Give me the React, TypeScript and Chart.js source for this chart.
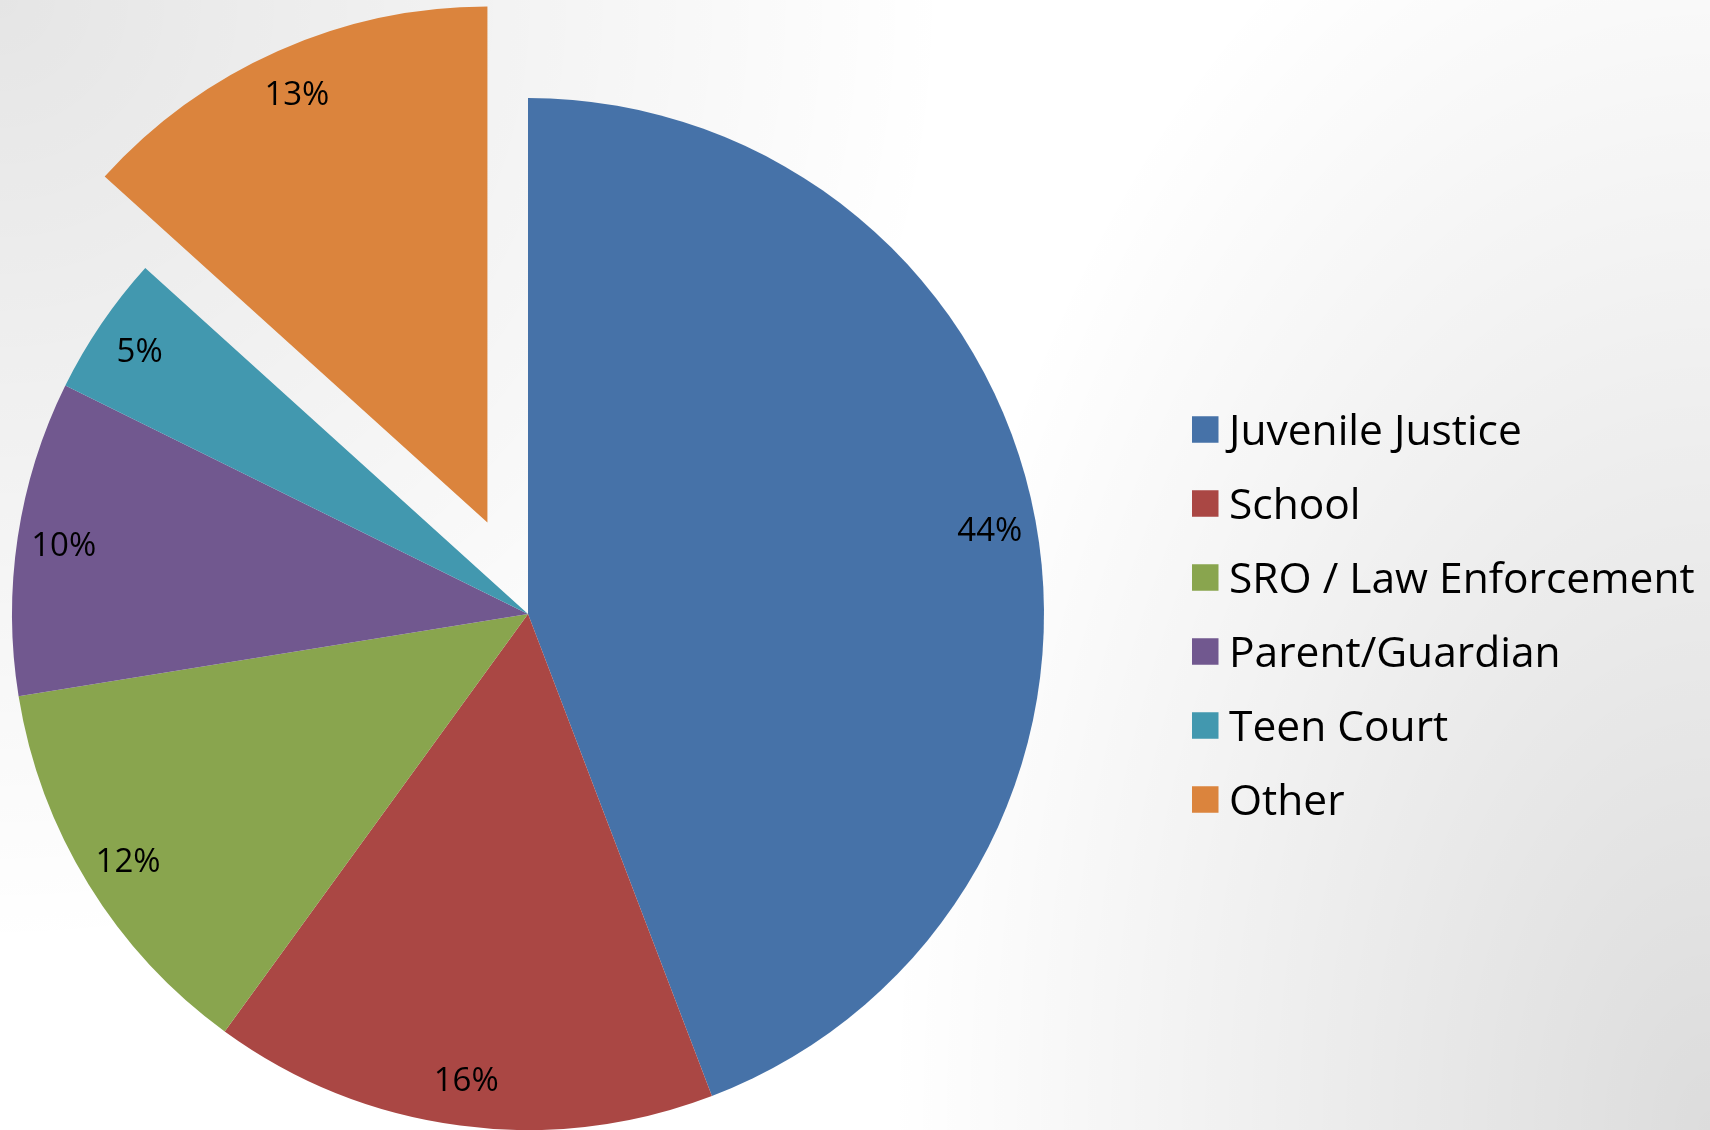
import React, { useEffect, useRef } from "react";
import { Chart, registerables } from "chart.js";

Chart.register(...registerables);

// ---- data ----
const categories: string[] = [
  "Juvenile Justice",
  "School",
  "SRO / Law Enforcement",
  "Parent/Guardian",
  "Teen Court",
  "Other",
];
// slice sizes (share of total, %)
const shares: number[] = [44.2, 15.8, 12.45, 9.85, 4.4, 13.3];
// data labels as printed on the slices
const percentLabels: string[] = ["44%", "16%", "12%", "10%", "5%", "13%"];
const sliceColors: string[] = ["#4672A8", "#AA4744", "#89A54E", "#71588F", "#4298AF", "#DB843D"];

// ---- style constants ----
const W = 1710;
const H = 1130;
const FONT = "'Open Sans', 'Liberation Sans', sans-serif";
const EXPLODE_INDEX = 5;
const EXPLODE_DISTANCE = 100;
const PIE_RADIUS = 516;
const LABEL_RADIUS_FRACTION = 0.91;
const LABEL_FONT_SIZE = 33;
const LEGEND_FONT_SIZE = 42.5;

const backgroundPlugin = {
  id: "bgGradient",
  beforeDraw(chart: any) {
    const ctx = chart.ctx as CanvasRenderingContext2D;
    const w = chart.width;
    const h = chart.height;
    ctx.save();
    ctx.fillStyle = "#ffffff";
    ctx.fillRect(0, 0, w, h);
    // top-left shade
    const g1 = ctx.createRadialGradient(0, 0, 0, 0, 0, 950);
    g1.addColorStop(0, "rgba(0,0,0,0.10)");
    g1.addColorStop(1, "rgba(0,0,0,0)");
    ctx.fillStyle = g1;
    ctx.fillRect(0, 0, w, h);
    // bottom-right shade (elliptical)
    ctx.translate(w, h);
    ctx.scale(0.6, 1);
    const g2 = ctx.createRadialGradient(0, 0, 0, 0, 0, 1370);
    g2.addColorStop(0, "rgba(0,0,0,0.137)");
    g2.addColorStop(1, "rgba(0,0,0,0)");
    ctx.fillStyle = g2;
    ctx.fillRect(-w / 0.6, -h, w / 0.6, h);
    ctx.restore();
  },
};

const explodePlugin = {
  id: "explodeSlice",
  afterDatasetsUpdate(chart: any) {
    const meta = chart.getDatasetMeta(0);
    const arc = meta.data[EXPLODE_INDEX];
    if (!arc) return;
    const mid = (arc.startAngle + arc.endAngle) / 2;
    arc.x += Math.cos(mid) * EXPLODE_DISTANCE;
    arc.y += Math.sin(mid) * EXPLODE_DISTANCE;
  },
};

const labelPlugin = {
  id: "sliceLabels",
  afterDatasetsDraw(chart: any) {
    const ctx = chart.ctx as CanvasRenderingContext2D;
    const meta = chart.getDatasetMeta(0);
    ctx.save();
    ctx.font = `${LABEL_FONT_SIZE}px ${FONT}`;
    ctx.fillStyle = "#000000";
    ctx.textAlign = "center";
    ctx.textBaseline = "alphabetic";
    const capHalf = (LABEL_FONT_SIZE * 0.714) / 2;
    meta.data.forEach((arc: any, i: number) => {
      const mid = (arc.startAngle + arc.endAngle) / 2;
      const r = arc.outerRadius * LABEL_RADIUS_FRACTION;
      const x = arc.x + Math.cos(mid) * r;
      const y = arc.y + Math.sin(mid) * r;
      ctx.fillText(percentLabels[i], x, y + capHalf);
    });
    ctx.restore();
  },
};

const legendPlugin = {
  id: "sideLegend",
  afterDraw(chart: any) {
    const ctx = chart.ctx as CanvasRenderingContext2D;
    const labels = chart.data.labels as string[];
    const colors = chart.data.datasets[0].backgroundColor as string[];
    const boxX = 1192;
    const box = 26.5;
    const firstCenter = 429.5;
    const rowGap = 74;
    const textX = 1229;
    ctx.save();
    ctx.font = `${LEGEND_FONT_SIZE}px ${FONT}`;
    ctx.textAlign = "left";
    ctx.textBaseline = "alphabetic";
    const capHalf = (LEGEND_FONT_SIZE * 0.714) / 2;
    labels.forEach((lab, i) => {
      const cy = firstCenter + i * rowGap;
      ctx.fillStyle = colors[i];
      ctx.fillRect(boxX, cy - box / 2, box, box);
      ctx.fillStyle = "#000000";
      ctx.fillText(lab, textX, cy + capHalf);
    });
    ctx.restore();
  },
};

export default function App() {
  const canvasRef = useRef<HTMLCanvasElement | null>(null);

  useEffect(() => {
    document.body.style.margin = "0";
    document.body.style.overflow = "hidden";
    const canvas = canvasRef.current;
    if (!canvas) return;
    const chart = new Chart(canvas, {
      type: "pie",
      data: {
        labels: categories,
        datasets: [
          {
            data: shares,
            backgroundColor: sliceColors,
            borderWidth: 0,
            radius: PIE_RADIUS,
          } as any,
        ],
      },
      options: {
        animation: false,
        responsive: true,
        maintainAspectRatio: false,
        devicePixelRatio: 1,
        layout: { padding: { left: 0, right: 654, top: 98, bottom: 0 } },
        plugins: {
          legend: { display: false },
          tooltip: { enabled: false },
          title: { display: false },
        },
        events: [],
      },
      plugins: [backgroundPlugin, explodePlugin, labelPlugin, legendPlugin],
    });
    return () => chart.destroy();
  }, []);

  return (
    <div style={{ position: "fixed", left: 0, top: 0, width: W, height: H }}>
      <canvas ref={canvasRef} />
    </div>
  );
}
